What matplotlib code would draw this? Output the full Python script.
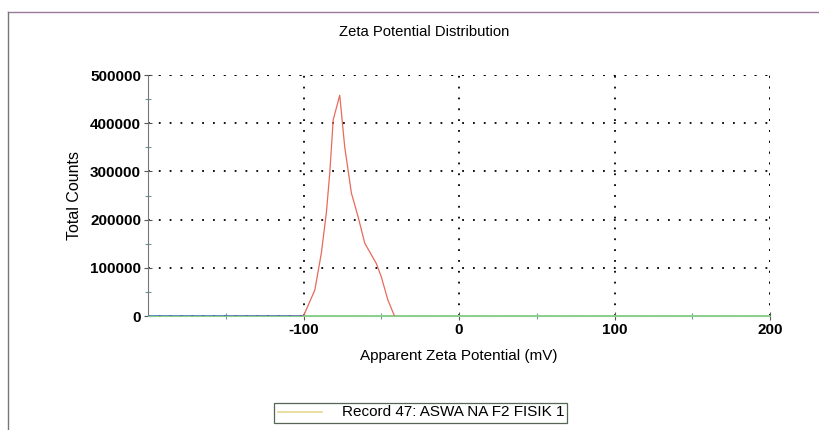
import matplotlib
matplotlib.use("Agg")
import matplotlib.pyplot as plt
from matplotlib.lines import Line2D
from matplotlib.patches import Rectangle

plt.rcParams["font.family"] = ["Liberation Sans", "DejaVu Sans"]
plt.rcParams["axes.unicode_minus"] = False

zeta_mv = [-100, -92.7, -88.5, -85.3, -83.1, -80.9, -76.7, -73.5, -69.2,
           -64.9, -60.6, -53.2, -50.0, -45.7, -41.5]
counts = [0, 54000, 131000, 214000, 297000, 407000, 458000, 351000, 255000,
          206000, 151000, 109000, 81500, 33000, 0]
record_label = "Record 47: ASWA NA F2 FISIK 1"

x_ticks = [-100, 0, 100, 200]
y_ticks = [0, 100000, 200000, 300000, 400000, 500000]

fig = plt.figure(figsize=(8.19, 4.30), dpi=100)
ax = fig.add_axes([148 / 819, 1 - 316 / 430, (770 - 148) / 819, (316 - 75) / 430])

# page frame lines
fig.add_artist(Line2D([8 / 819, 1], [1 - 12 / 430, 1 - 12 / 430], color="#9a7a9a", lw=1))
fig.add_artist(Line2D([8 / 819, 8 / 819], [0, 1 - 12 / 430], color="#777777", lw=1))

# baseline of the other channels
ax.plot([-200, -100], [0, 0], color="#4a7ab8", lw=1.2, zorder=3)
ax.plot([-150, -100], [0, 0], color="#9a6aa8", lw=1.0, zorder=3)
ax.plot([-100, 200], [0, 0], color="#8ccf8c", lw=1.4, zorder=3)

ax.plot(zeta_mv, counts, color="#e86a5a", lw=0.9, zorder=4)

ax.set_xlim(-200, 200)
ax.set_ylim(0, 500000)
ax.set_xticks(x_ticks)
ax.set_yticks(y_ticks)
ax.set_xticks([-150, -50, 50, 150], minor=True)
ax.set_yticks([50000, 150000, 250000, 350000, 450000], minor=True)
ax.tick_params(which="both", direction="inout", length=6, width=0.8, color="#555555")
ax.tick_params(which="minor", length=5, color="#6a9a9a")
ax.tick_params(labelsize=11, pad=2)
for lab in ax.get_xticklabels() + ax.get_yticklabels():
    lab.set_fontweight("bold")

for s in ["top", "right"]:
    ax.spines[s].set_visible(False)
ax.spines["left"].set_color("#777777")
ax.spines["bottom"].set_color("#8ccf8c")

ax.grid(True, which="major", color="black", linestyle=(0, (1, 5)), lw=1.3)
ax.axvline(200, color="black", linestyle=(0, (1, 5)), lw=1.3)
ax.axhline(500000, color="black", linestyle=(0, (1, 5)), lw=1.3)

ax.set_xlabel("Apparent Zeta Potential (mV)", fontsize=11, labelpad=9)
ax.set_ylabel("Total Counts", fontsize=11.5, labelpad=6)
fig.text(424 / 819, 1 - 32 / 430, "Zeta Potential Distribution", fontsize=10.6,
         ha="center", va="center")

# legend box
fig.add_artist(Rectangle((274 / 819, 1 - 423 / 430), 293 / 819, 20 / 430,
                         fill=False, ec="#556655", lw=0.9))
fig.add_artist(Line2D([278 / 819, 322 / 819], [1 - 412 / 430, 1 - 412 / 430],
                      color="#e8d890", lw=1.2))
fig.text(342 / 819, 1 - 412 / 430, record_label, fontsize=11, va="center", ha="left")

fig.savefig("out.png", dpi=100)
